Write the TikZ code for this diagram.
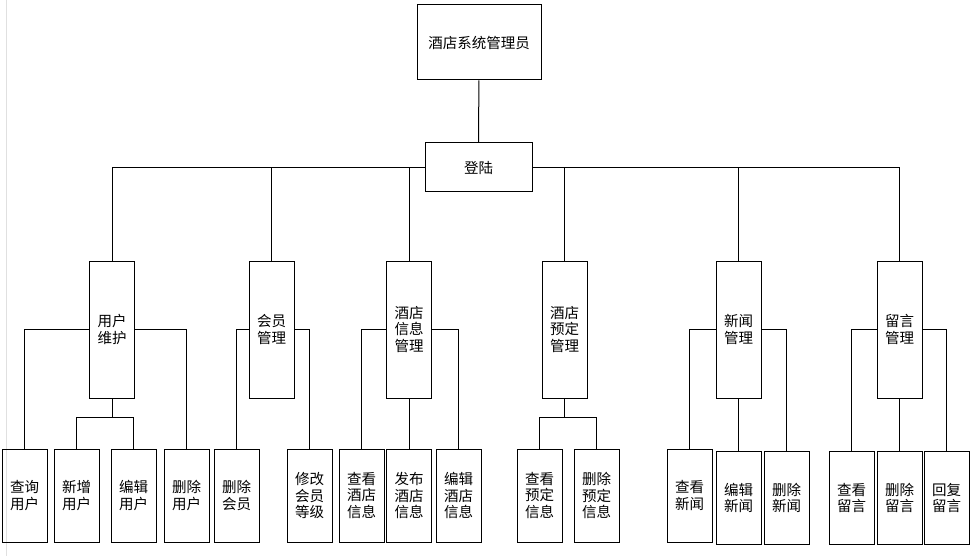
\documentclass[tikz,border=0pt]{standalone}
\usepackage{fontspec}
\newfontfamily\cjk{Noto Sans CJK SC}
\usepackage{tikz}
\usetikzlibrary{positioning}

\begin{document}
\begin{tikzpicture}[
    x=1pt, y=-1pt,
    box/.style={draw=black, rectangle, line width=1pt, inner sep=0pt, align=center,
        font=\cjk\fontsize{14.5}{16.5}\selectfont},
    topbox/.style={box, minimum width=124pt, minimum height=75pt},
    midbox/.style={box, minimum width=45pt, minimum height=137pt},
    leafbox/.style={box, minimum width=45pt, minimum height=93pt},
    link/.style={draw=black, line width=1pt}
]
\useasboundingbox (0,0) rectangle (979,556);
\draw[black!12, line width=1pt] (6,0) -- (6,556);

\node[topbox] (admin) at (479,42.5) {酒店系统管理员};
\node[box, minimum width=107pt, minimum height=49pt] (login) at (478.5,167.5) {登陆};

% second level
\node[midbox] (yhwh) at (112,329.5) {用户\\维护};
\node[midbox] (hygl) at (271.5,329.5) {会员\\管理};
\node[midbox] (jdxx) at (409,329.5) {酒店\\信息\\管理};
\node[midbox] (jdyd) at (564.5,329.5) {酒店\\预定\\管理};
\node[midbox] (xwgl) at (738.5,329.5) {新闻\\管理};
\node[midbox] (lygl) at (899.5,329.5) {留言\\管理};

% leaves
\node[leafbox] (cxyh) at (24.5,495.5) {查询\\用户};
\node[leafbox] (xzyh) at (76.5,495.5) {新增\\用户};
\node[leafbox] (bjyh) at (133.5,495.5) {编辑\\用户};
\node[leafbox] (scyh) at (186.5,495.5) {删除\\用户};
\node[leafbox] (schy) at (236.5,495.5) {删除\\会员};
\node[leafbox] (xgdj) at (309.5,495.5) {修改\\会员\\等级};
\node[leafbox] (ckjd) at (361.5,495.5) {查看\\酒店\\信息};
\node[leafbox] (fbjd) at (409,495.5) {发布\\酒店\\信息};
\node[leafbox] (bjjd) at (458.5,495.5) {编辑\\酒店\\信息};
\node[leafbox] (ckyd) at (539.5,495.5) {查看\\预定\\信息};
\node[leafbox] (scyd) at (596.5,495.5) {删除\\预定\\信息};
\node[leafbox] (ckxw) at (689.5,495.5) {查看\\新闻};
\node[leafbox] (bjxw) at (738.5,498) {编辑\\新闻};
\node[leafbox] (scxw) at (786.5,498) {删除\\新闻};
\node[leafbox] (ckly) at (851.5,498) {查看\\留言};
\node[leafbox] (scly) at (899.5,498) {删除\\留言};
\node[leafbox] (hfly) at (946.5,498) {回复\\留言};

\coordinate[below=19pt of yhwh.south] (yhfork);
\coordinate[below=19pt of jdyd.south] (ydfork);

\draw[link] (admin) -- (login);
\draw[link] (login.west) -| (yhwh.north);
\draw[link] (login.west) -| (hygl.north);
\draw[link] (login.west) -| (jdxx.north);
\draw[link] (login.east) -| (jdyd.north);
\draw[link] (login.east) -| (xwgl.north);
\draw[link] (login.east) -| (lygl.north);

\draw[link] (yhwh.west) -| (cxyh.north);
\draw[link] (yhwh.east) -| (scyh.north);
\draw[link] (yhwh.south) -- (yhfork);
\draw[link] (xzyh.north) |- (yhfork) -| (bjyh.north);

\draw[link] (hygl.west) -| (schy.north);
\draw[link] (hygl.east) -| (xgdj.north);

\draw[link] (jdxx.west) -| (ckjd.north);
\draw[link] (jdxx.south) -- (fbjd.north);
\draw[link] (jdxx.east) -| (bjjd.north);

\draw[link] (jdyd.south) -- (ydfork);
\draw[link] (ckyd.north) |- (ydfork) -| (scyd.north);

\draw[link] (xwgl.west) -| (ckxw.north);
\draw[link] (xwgl.south) -- (bjxw.north);
\draw[link] (xwgl.east) -| (scxw.north);

\draw[link] (lygl.west) -| (ckly.north);
\draw[link] (lygl.south) -- (scly.north);
\draw[link] (lygl.east) -| (hfly.north);
\end{tikzpicture}
\end{document}
